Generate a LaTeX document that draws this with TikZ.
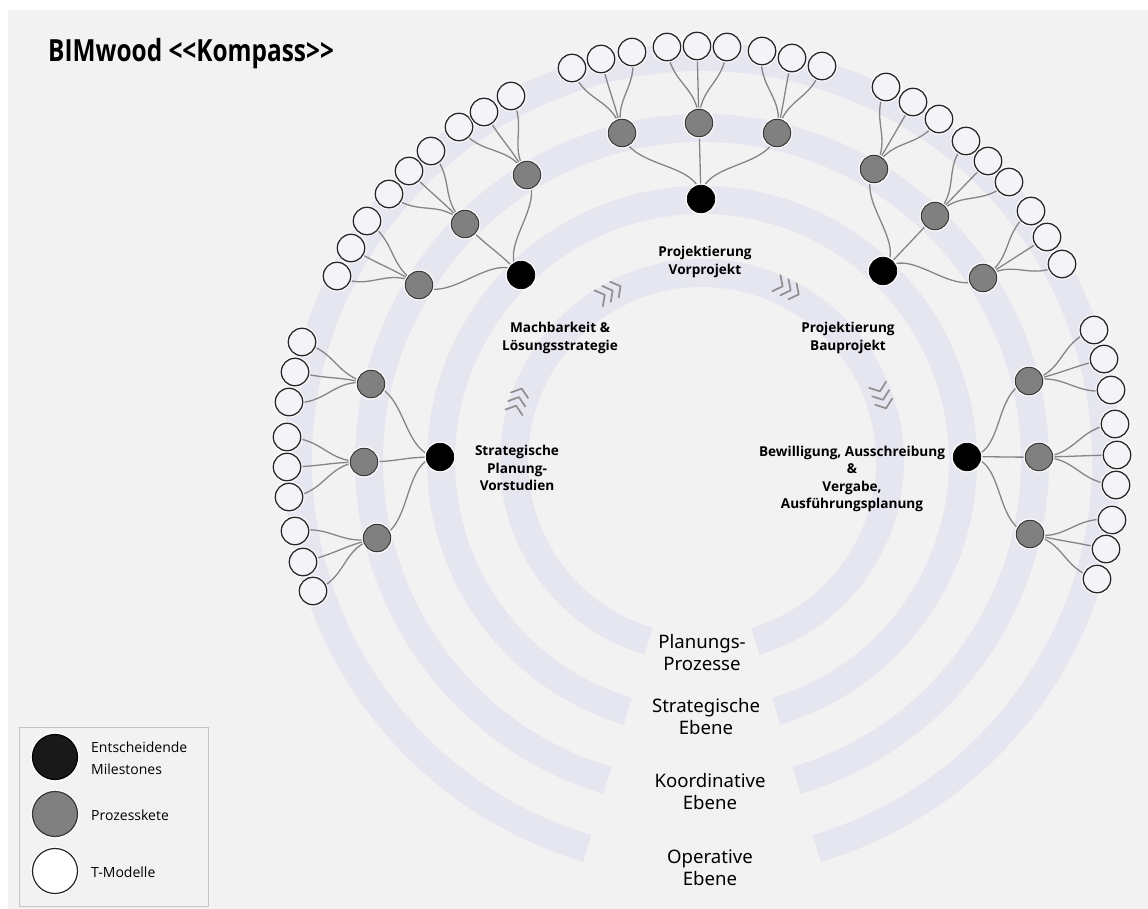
\documentclass[tikz,border=0pt]{standalone}
\usepackage{fontspec}
\usetikzlibrary{calc}
\setmainfont{Noto Sans}
\newfontfamily\titlefont[FakeStretch=0.8]{Open Sans}
\newfontfamily\legendfont{Open Sans}
\newfontfamily\phasefont{Open Sans}

\definecolor{panel}{HTML}{F2F2F2}
\definecolor{ringband}{HTML}{E5E6F0}
\definecolor{linkgray}{HTML}{858585}
\definecolor{procgray}{HTML}{808080}
\definecolor{tmodfill}{HTML}{F3F3F8}
\definecolor{chevgray}{HTML}{8E8E8E}
\definecolor{boxline}{HTML}{C4C4C4}

\pgfdeclarelayer{paper}
\pgfdeclarelayer{bands}
\pgfdeclarelayer{links}
\pgfsetlayers{paper,bands,links,main}

\tikzset{
  milestone/.style={circle, fill=black, draw=black, line width=0.8pt,
    minimum size=27.5pt, inner sep=0pt, preaction={draw=white, line width=3.5pt}},
  process/.style={circle, fill=procgray, draw=black!78, line width=1pt,
    minimum size=27.5pt, inner sep=0pt, preaction={draw=white, line width=3.5pt}},
  tmodel/.style={circle, fill=tmodfill, draw=black!85, line width=1.3pt,
    minimum size=27.5pt, inner sep=0pt, preaction={draw=white, line width=3.5pt}},
  link/.style={draw=linkgray, line width=1.3pt},
  ring/.style={draw=ringband, line width=28pt},
  phase/.style={align=center, inner sep=0pt, font=\phasefont\bfseries\fontsize{13.6}{17.6}\selectfont},
  level/.style={align=center, inner sep=0pt, font=\fontsize{18.6}{22}\selectfont},
  legtxt/.style={anchor=west, align=left, inner sep=0pt, font=\legendfont\fontsize{14}{22}\selectfont},
  chevline/.style={draw=chevgray, line width=1.7pt, line cap=round, line join=round},
  chevrons/.pic={
    \foreach \i in {0,1,2}{
      \draw[chevline] ({9*\i-13},9) -- ({9*\i-6},0) -- ({9*\i-13},-9);
    }
  }
}

\begin{document}
\begin{tikzpicture}[x=1pt, y=1pt]
  % page and panel
  \useasboundingbox (0,0) rectangle (1148,-909);
  \begin{pgfonlayer}{paper}
    \fill[white] (0,0) rectangle (1148,-909);
    \fill[panel] (8,-10) rectangle (1148,-909);
  \end{pgfonlayer}

  \coordinate (C) at (702,-461);

  % concentric level rings, open at the bottom
  \begin{pgfonlayer}{bands}
    \foreach \r in {188,261,333,404}{
      \draw[ring] (C) ++(-73.5:\r) arc[start angle=-73.5, end angle=253.5, radius=\r];
    }
  \end{pgfonlayer}

  % title
  \node[anchor=base west, inner sep=0pt, font=\titlefont\bfseries\fontsize{30.5}{34}\selectfont]
    (title) at (48,-62) {BIMwood <\kern0pt<Kompass>\kern0pt>};

  % milestones
  \foreach \id/\x/\y in {1/440/457, 2/521/275, 3/701/199, 4/883/271, 5/967/457}
    \node[milestone] (m\id) at (\x,-\y) {};

  % process chains
  \foreach \id/\x/\y in {
      11/371/384, 12/364/462, 13/377/538,
      21/419/285, 22/465/224, 23/527/175,
      31/622/133, 32/699/123, 33/777/133,
      41/874/169, 42/935/216, 43/983/278,
      51/1029/381, 52/1039/457, 53/1030/534}
    \node[process] (g\id) at (\x,-\y) {};

  % T-models
  \foreach \id/\x/\y in {
      11-1/302/342, 11-2/295/372, 11-3/289/402,
      12-1/287/437, 12-2/287/467, 12-3/289/497,
      13-1/295/531, 13-2/303/562, 13-3/313/591,
      21-1/337/276, 21-2/351/248, 21-3/367/221,
      22-1/389/194, 22-2/409/171, 22-3/431/151,
      23-1/459/127, 23-2/484/112, 23-3/511/96,
      31-1/572/68,  31-2/601/59,  31-3/632/52,
      32-1/667/47,  32-2/697/46,  32-3/727/47,
      33-1/762/51,  33-2/792/58,  33-3/822/66,
      41-1/886/87,  41-2/913/102, 41-3/939/119,
      42-1/966/141, 42-2/988/161, 42-3/1009/182,
      43-1/1031/211, 43-2/1047/237, 43-3/1062/264,
      51-1/1094/330, 51-2/1104/359, 51-3/1111/390,
      52-1/1115/424, 52-2/1117/455, 52-3/1116/485,
      53-1/1112/520, 53-2/1106/549, 53-3/1097/579}
    \node[tmodel] (w\id) at (\x,-\y) {};

  % radial tree links
  \begin{pgfonlayer}{links}
    \foreach \m in {1,...,5}{
      \foreach \k in {1,2,3}{
        \draw[link] (m\m.center)
          .. controls ($(C)!1.1456!(m\m.center)$) and ($(C)!0.887!(g\m\k.center)$)
          .. (g\m\k.center);
        \foreach \j in {1,2,3}{
          \draw[link] (g\m\k.center)
            .. controls ($(C)!1.1128!(g\m\k.center)$) and ($(C)!0.908!(w\m\k-\j.center)$)
            .. (w\m\k-\j.center);
        }
      }
    }
  \end{pgfonlayer}

  % phase labels
  \node[phase] (p1) at (517,-468) {Strategische\\Planung-\\Vorstudien};
  \node[phase] (p2) at (560,-338) {Machbarkeit \&\\Lösungsstrategie};
  \node[phase] (p3) at (705,-262) {Projektierung\\Vorprojekt};
  \node[phase] (p4) at (848,-338) {Projektierung\\Bauprojekt};
  \node[phase] (p5) at (852,-479) {Bewilligung, Ausschreibung\\\&\\Vergabe,\\Ausführungsplanung};

  % direction marks on the inner ring
  \pic[rotate=72]    at (518,-400) {chevrons};
  \pic[rotate=28.6]  at (610,-292) {chevrons};
  \pic[rotate=-26.6] at (788,-289) {chevrons};
  \pic[rotate=-70]   at (882,-397) {chevrons};

  % ring labels
  \node[level] (l1) at (702,-653) {Planungs-\\Prozesse};
  \node[level] (l2) at (706,-717) {Strategische\\Ebene};
  \node[level] (l3) at (710,-792) {Koordinative\\Ebene};
  \node[level] (l4) at (710,-868) {Operative\\Ebene};

  % legend
  \draw[boxline, fill=panel, line width=1pt] (19,-727) rectangle (208,-906);
  \node[milestone, fill=black!90, minimum size=45pt, line width=1.2pt] (lm) at (55,-757) {};
  \node[process, minimum size=45pt, line width=1.2pt] (lp) at (55,-814) {};
  \node[tmodel, fill=white, minimum size=45pt, line width=1.2pt] (lt) at (55,-871) {};
  \node[legtxt] (lmt) at (91,-758) {Entscheidende\\Milestones};
  \node[legtxt] (lpt) at (91,-815) {Prozesskete};
  \node[legtxt] (ltt) at (91,-872) {T-Modelle};
\end{tikzpicture}
\end{document}
